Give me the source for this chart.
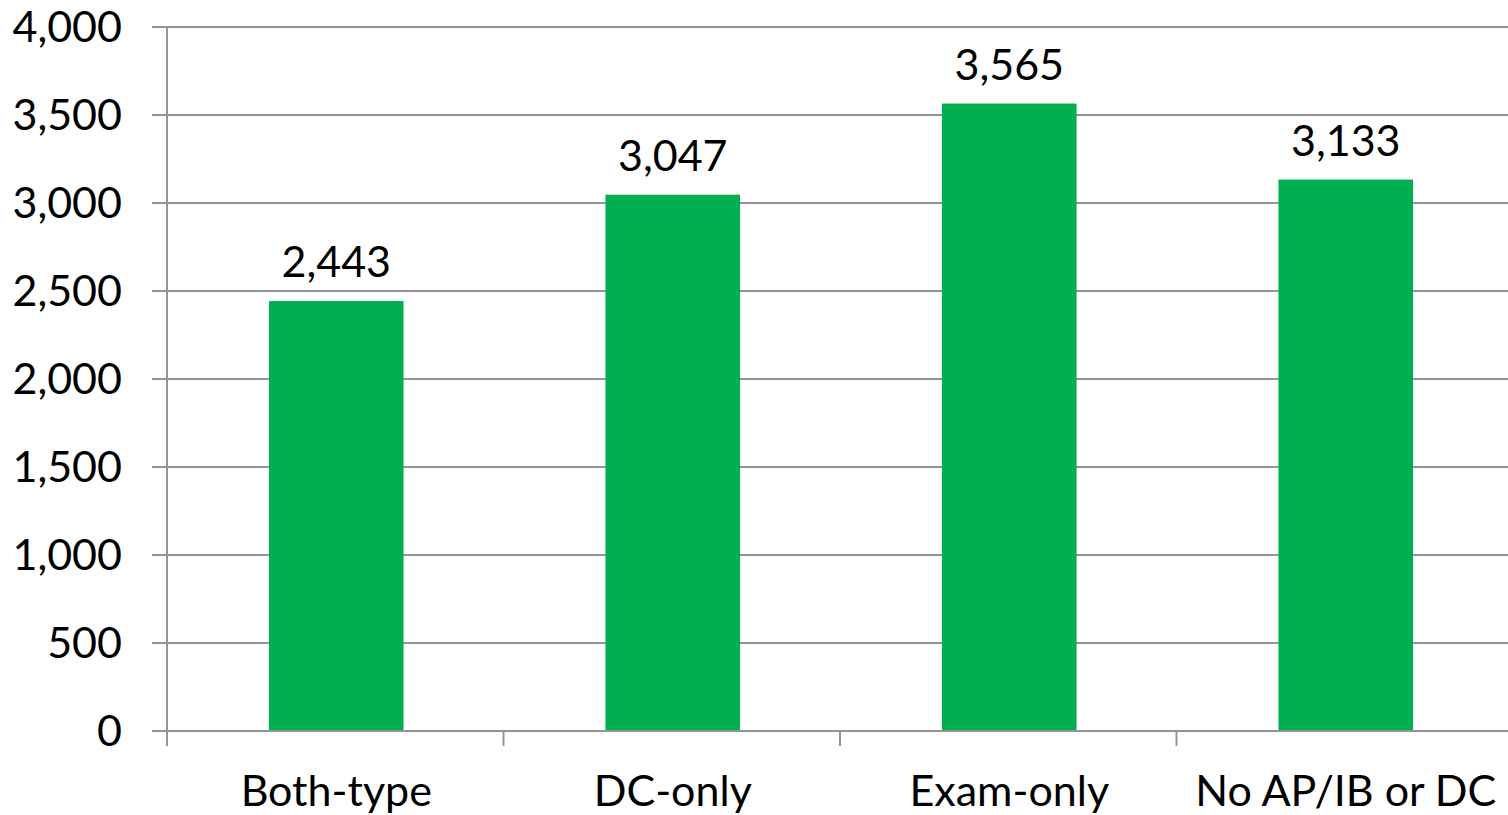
<!DOCTYPE html>
<html>
<head>
<meta charset="utf-8">
<script src="https://cdn.jsdelivr.net/npm/d3@7"></script>
<style>
  body { margin: 0; background: #fff; }
  svg { display: block; }
  text { font-family: Lato, "Open Sans", sans-serif; fill: #000; }
</style>
</head>
<body>
<div id="chart"></div>
<script>
const categories = ['Both-type', 'DC-only', 'Exam-only', 'No AP/IB or DC'];
const values = [2443, 3047, 3565, 3133];
const yTicks = [0, 500, 1000, 1500, 2000, 2500, 3000, 3500, 4000];

const width = 1508;
const height = 815;
const margin = { top: 27, right: -5, bottom: 84, left: 167 };
const fontSize = 43;

const svg = d3
  .select('#chart')
  .append('svg')
  .attr('width', width)
  .attr('height', height);

const xScale = d3
  .scaleBand()
  .domain(categories)
  .range([margin.left, width - margin.right])
  .padding(0);

const yScale = d3
  .scaleLinear()
  .domain([0, 4000])
  .range([height - margin.bottom, margin.top]);

const gridColor = '#959595';

// gridlines + y ticks (ticks stick out left of the axis)
const grid = svg.append('g').attr('class', 'gridlines');
grid.selectAll('line')
  .data(yTicks)
  .join('line')
  .attr('x1', margin.left - 15)
  .attr('x2', width)
  .attr('y1', (d) => yScale(d))
  .attr('y2', (d) => yScale(d))
  .attr('stroke', gridColor)
  .attr('stroke-width', 2);

// y labels
const fmt = d3.format(',');
svg.append('g')
  .selectAll('text')
  .data(yTicks)
  .join('text')
  .attr('x', 122)
  .attr('y', (d) => yScale(d))
  .attr('dy', '0.35em')
  .attr('text-anchor', 'end')
  .attr('font-size', fontSize)
  .text((d) => fmt(d));

// y axis line
svg.append('line')
  .attr('x1', margin.left)
  .attr('x2', margin.left)
  .attr('y1', yScale(4000))
  .attr('y2', yScale(0) + 15)
  .attr('stroke', gridColor)
  .attr('stroke-width', 2);

// x tick marks at band boundaries
const bounds = categories.map((c) => xScale(c)).concat([xScale.range()[1]]);
svg.append('g')
  .selectAll('line')
  .data(bounds)
  .join('line')
  .attr('x1', (d) => d)
  .attr('x2', (d) => d)
  .attr('y1', yScale(0))
  .attr('y2', yScale(0) + 15)
  .attr('stroke', gridColor)
  .attr('stroke-width', 2);

// bars
const barW = xScale.bandwidth() * 0.4;
svg.append('g')
  .selectAll('rect')
  .data(categories)
  .join('rect')
  .attr('x', (d) => xScale(d) + xScale.bandwidth() / 2 - barW / 2 + 1)
  .attr('width', barW)
  .attr('y', (d, i) => yScale(values[i]))
  .attr('height', (d, i) => yScale(0) - yScale(values[i]))
  .attr('fill', '#00B050');

// redraw baseline on top
svg.append('line')
  .attr('x1', margin.left - 15)
  .attr('x2', width)
  .attr('y1', yScale(0))
  .attr('y2', yScale(0))
  .attr('stroke', gridColor)
  .attr('stroke-width', 2);

// value labels
svg.append('g')
  .selectAll('text')
  .data(categories)
  .join('text')
  .attr('x', (d) => xScale(d) + xScale.bandwidth() / 2 + 1)
  .attr('y', (d, i) => yScale(values[i]) - 24)
  .attr('text-anchor', 'middle')
  .attr('font-size', fontSize)
  .text((d, i) => fmt(values[i]));

// category labels
svg.append('g')
  .selectAll('text')
  .data(categories)
  .join('text')
  .attr('x', (d) => xScale(d) + xScale.bandwidth() / 2 + 1)
  .attr('y', 806)
  .attr('text-anchor', 'middle')
  .attr('font-size', fontSize)
  .text((d) => d);
</script>
</body>
</html>
